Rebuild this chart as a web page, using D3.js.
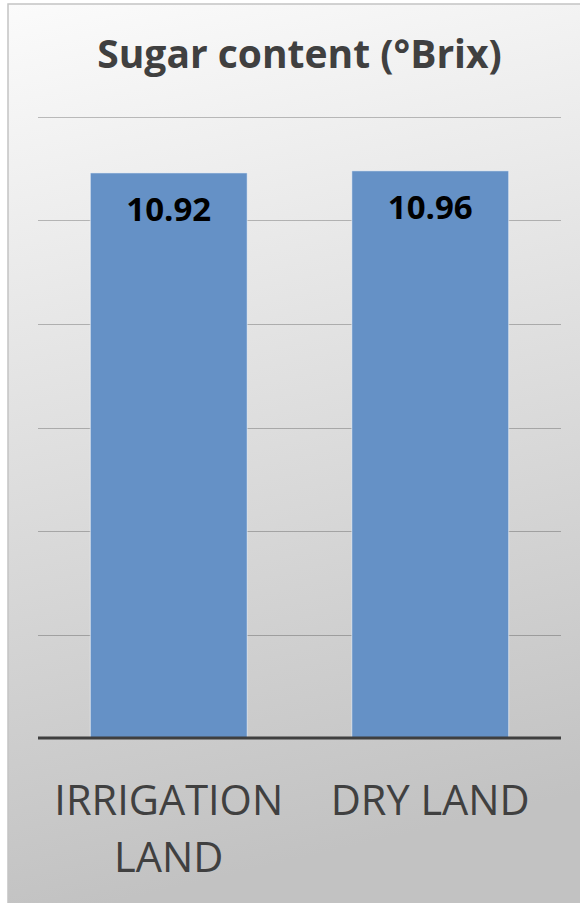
<!DOCTYPE html>
<html><head><meta charset="utf-8">
<script src="https://cdn.jsdelivr.net/npm/d3@7/dist/d3.min.js"></script>
<style>html,body{margin:0;padding:0;background:#fff;}svg{display:block;}</style>
</head><body>
<svg id="c" width="580" height="903"></svg>
<script>
const categories = [["IRRIGATION", "LAND"], ["DRY LAND"]];
const values = [10.92, 10.96];
const valueLabels = ["10.92", "10.96"];
const yTicks = [0, 2, 4, 6, 8, 10, 12];
const title = "Sugar content (°Brix)";

const svg = d3.select("#c");
const W = 580, H = 903;
const defs = svg.append("defs");
const g = defs.append("linearGradient").attr("id","bg").attr("x1","0").attr("y1","0").attr("x2","0.15").attr("y2","1");
g.append("stop").attr("offset","0").attr("stop-color","#fbfbfb");
g.append("stop").attr("offset","1").attr("stop-color","#c2c2c2");

svg.append("rect").attr("x",8).attr("y",4).attr("width",W).attr("height",H)
  .attr("fill","url(#bg)").attr("stroke","#c4c4c4").attr("stroke-width",1.5);

const x = d3.scaleBand().domain(d3.range(values.length)).range([38, 561]).paddingInner(0.4).paddingOuter(0.2);
const y = d3.scaleLinear().domain([0, 12]).range([738, 117]);

// gridlines
svg.append("g").selectAll("line").data(yTicks.filter(t => t > 0)).join("line")
  .attr("x1", 38).attr("x2", 561)
  .attr("y1", d => Math.round(y(d)) + 0.5).attr("y2", d => Math.round(y(d)) + 0.5)
  .attr("stroke", "rgba(0,0,0,0.24)").attr("stroke-width", 1.2);

// bars
svg.append("g").selectAll("rect").data(values).join("rect")
  .attr("x", (d,i) => x(i)).attr("width", x.bandwidth())
  .attr("y", d => y(d)).attr("height", d => y(0) - y(d))
  .attr("fill", "#6591c6").attr("stroke", "rgba(255,255,255,0.55)").attr("stroke-width", 1);

// baseline
svg.append("line").attr("x1", 38).attr("x2", 561).attr("y1", y(0)).attr("y2", y(0))
  .attr("stroke", "#3f3f3f").attr("stroke-width", 3);

// value labels
svg.append("g").selectAll("text").data(values).join("text")
  .attr("x", (d,i) => x(i) + x.bandwidth()/2).attr("y", d => y(d) + 48)
  .attr("text-anchor", "middle").attr("font-family", "'Open Sans'").attr("font-weight", "bold")
  .attr("font-size", 33).attr("fill", "#000").text((d,i) => valueLabels[i]);

// category labels
const cl = svg.append("g").selectAll("text").data(categories).join("text")
  .attr("text-anchor", "middle").attr("font-family", "'Open Sans'").attr("font-size", 41.5)
  .attr("fill", "#404040");
cl.each(function(lines, i) {
  d3.select(this).selectAll("tspan").data(lines).join("tspan")
    .attr("x", x(i) + x.bandwidth()/2).attr("y", (d,j) => 815 + j*57).text(d => d);
});

// title
svg.append("text").attr("x", 299.5).attr("y", 68).attr("text-anchor", "middle")
  .attr("font-family", "'Open Sans'").attr("font-weight", "bold").attr("font-size", 39)
  .attr("fill", "#404040").text(title);
</script>
</body></html>
